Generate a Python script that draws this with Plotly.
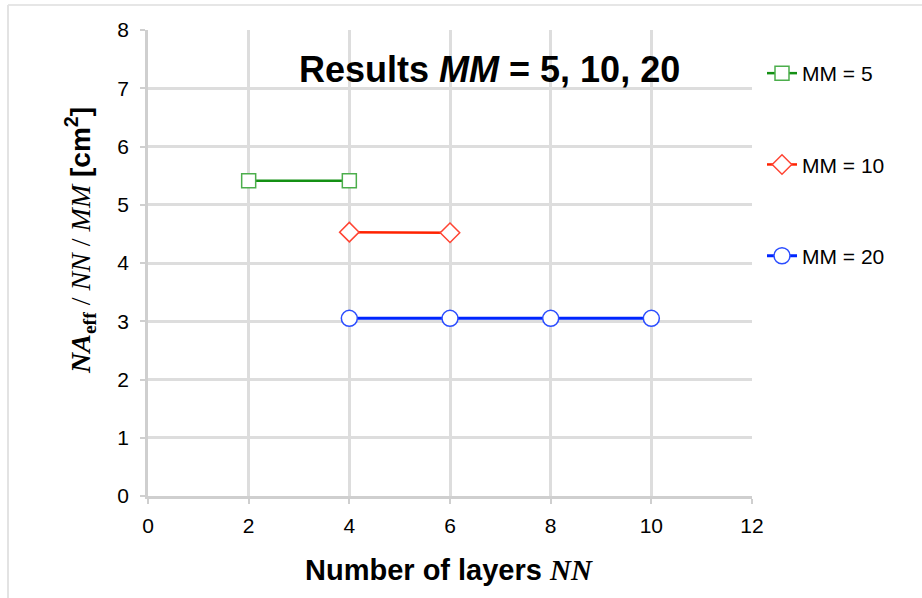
import plotly.graph_objects as go

# Data
x_mm5 = [2, 4]
y_mm5 = [5.41, 5.41]
x_mm10 = [4, 6]
y_mm10 = [4.53, 4.52]
x_mm20 = [4, 6, 8, 10]
y_mm20 = [3.05, 3.05, 3.05, 3.05]
x_ticks = [0, 2, 4, 6, 8, 10, 12]
y_ticks = [0, 1, 2, 3, 4, 5, 6, 7, 8]

W, H = 922, 598
L, R, T, B = 148, 170, 30, 102
PW, PH = W - L - R, H - T - B

def px(xp):
    return (xp - L) / PW

def py(yp):
    return (T + PH - yp) / PH

fig = go.Figure()
fig.add_trace(go.Scatter(
    x=x_mm5, y=y_mm5, mode="lines+markers", name="MM = 5",
    line=dict(color="#149014", width=2.5),
    marker=dict(symbol="square", size=14, color="white",
                line=dict(color="#4cae4c", width=1.5)),
    legendgroup="a"))
fig.add_trace(go.Scatter(
    x=x_mm10, y=y_mm10, mode="lines+markers", name="MM = 10",
    line=dict(color="#ff2200", width=2.5),
    marker=dict(symbol="diamond", size=15, color="white",
                line=dict(color="#ff4433", width=1.5)),
    legendgroup="b"))
fig.add_trace(go.Scatter(
    x=x_mm20, y=y_mm20, mode="lines+markers", name="MM = 20",
    line=dict(color="#0026ff", width=3),
    marker=dict(symbol="circle", size=16, color="white",
                line=dict(color="#2b4dff", width=1.5)),
    legendgroup="c"))

axis_common = dict(
    showgrid=True, gridcolor="#dddddd", gridwidth=2.5,
    showline=True, linecolor="#cfcfcf", linewidth=2.5,
    ticks="outside", ticklen=5, tickcolor="#cfcfcf", tickwidth=2,
    zeroline=False, mirror=False,
    tickfont=dict(family="Liberation Sans, Arial", size=21, color="black"),
)
fig.update_xaxes(range=[0, 12], tickvals=x_ticks, ticklabelstandoff=4, **axis_common)
fig.update_yaxes(range=[0, 8], tickvals=y_ticks, ticklabelstandoff=7, **axis_common)

fig.add_annotation(
    x=px(489), y=py(70), xref="paper", yref="paper", showarrow=False,
    xanchor="center", yanchor="middle",
    text="<b>Results <i>MM</i> = 5, 10, 20</b>",
    font=dict(family="Liberation Sans, Arial", size=36, color="black"))
fig.add_annotation(
    x=px(449), y=py(570), xref="paper", yref="paper", showarrow=False,
    xanchor="center", yanchor="middle",
    text="<b>Number of layers </b><span style=\"font-family:'Liberation Serif'\"><b><i>NN</i></b></span>",
    font=dict(family="Liberation Sans, Arial", size=29, color="black"))
fig.add_annotation(
    x=px(80), y=py(241), xref="paper", yref="paper", showarrow=False, textangle=-90,
    xanchor="center", yanchor="middle",
    text="<span style=\"font-family:'Liberation Serif'\"><b><i>NA</i><sub>eff</sub></b> / <i>NN</i> / <i>MM</i></span> <b>[cm<sup>2</sup>]</b>",
    font=dict(family="Liberation Sans, Arial", size=28, color="black"))

# outer frame lines
fig.add_shape(type="line", xref="paper", yref="paper",
              x0=px(8), x1=px(922), y0=py(5), y1=py(5),
              line=dict(color="#e6e6e6", width=2))
fig.add_shape(type="line", xref="paper", yref="paper",
              x0=px(8), x1=px(8), y0=py(5), y1=py(598),
              line=dict(color="#e3e3e3", width=2))

fig.update_layout(
    width=W, height=H,
    margin=dict(l=L, r=R, t=T, b=B),
    paper_bgcolor="white", plot_bgcolor="white",
    showlegend=True,
    legend=dict(x=px(762), y=py(53), xanchor="left", yanchor="top",
                tracegroupgap=61, itemwidth=30,
                font=dict(family="Liberation Sans, Arial", size=21, color="black"),
                bgcolor="rgba(0,0,0,0)"),
)

fig.write_html("out.html")
